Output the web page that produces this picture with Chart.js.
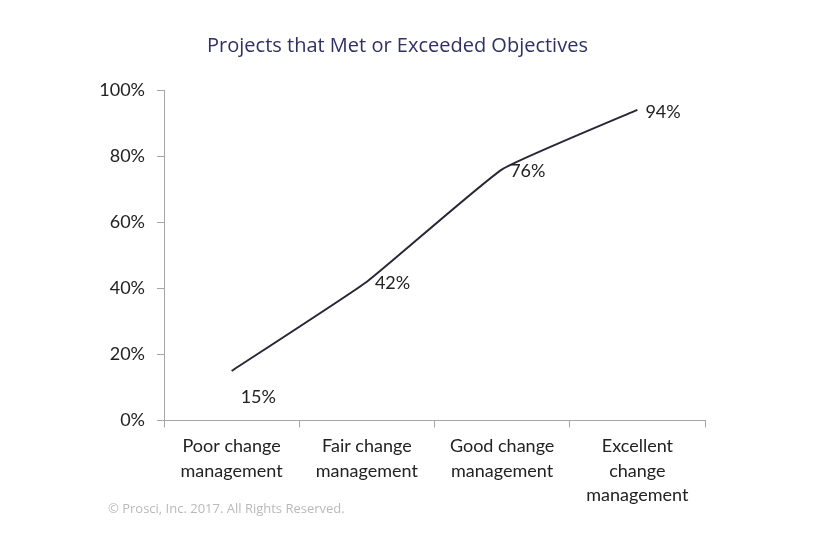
<!DOCTYPE html>
<html>
<head>
<meta charset="utf-8">
<script src="https://cdn.jsdelivr.net/npm/chart.js@4/dist/chart.umd.min.js"></script>
<style>
  body { margin: 0; background: #fff; }
  #wrap { position: relative; width: 836px; height: 558px; }
  #copy { position: absolute; left: 108px; top: 499px; font: 13px "Open Sans", sans-serif; color: #b9b9b9; }
</style>
</head>
<body>
<div id="wrap">
  <canvas id="chart" width="836" height="558"></canvas>
  <div id="copy">© Prosci, Inc. 2017. All Rights Reserved.</div>
</div>
<script>
const categories = [
  ['Poor change', 'management'],
  ['Fair change', 'management'],
  ['Good change', 'management'],
  ['Excellent', 'change', 'management']
];
const metObjectives = [15, 42, 76, 94];
const yTicks = [0, 20, 40, 60, 80, 100];

// value labels: first one sits under the point, the rest to the right
const valueLabels = {
  id: 'valueLabels',
  afterDatasetsDraw(chart) {
    const ctx = chart.ctx;
    const meta = chart.getDatasetMeta(0);
    ctx.save();
    ctx.font = '18px Lato, sans-serif';
    ctx.fillStyle = '#222';
    ctx.textBaseline = 'middle';
    meta.data.forEach((pt, i) => {
      const txt = metObjectives[i] + '%';
      if (i === 0) {
        ctx.fillText(txt, pt.x + 9, pt.y + 26);
      } else {
        ctx.fillText(txt, pt.x + 8, pt.y + 2);
      }
    });
    ctx.restore();
  }
};

new Chart(document.getElementById('chart').getContext('2d'), {
  type: 'line',
  data: {
    labels: categories,
    datasets: [{
      data: metObjectives,
      borderColor: '#2a2838',
      borderWidth: 2,
      pointRadius: 0,
      tension: 0.12,
      fill: false
    }]
  },
  options: {
    responsive: false,
    animation: false,
    layout: { padding: { left: 90, right: 131, top: 0, bottom: 44 } },
    plugins: {
      legend: { display: false },
      tooltip: { enabled: false },
      title: {
        display: true,
        text: 'Projects that Met or Exceeded Objectives',
        color: '#2f3163',
        font: { family: 'Open Sans', size: 20, weight: 'normal' },
        padding: { top: 34, bottom: 32 }
      }
    },
    scales: {
      x: {
        offset: true,
        grid: { offset: true, drawOnChartArea: false, drawTicks: true, tickLength: 7, color: '#a6a6a6' },
        border: { color: '#a6a6a6', width: 1 },
        ticks: { color: '#222', font: { family: 'Lato', size: 18, lineHeight: 1.38 }, padding: 6, maxRotation: 0 }
      },
      y: {
        min: 0,
        max: 100,
        afterFit: s => { s.width = 74; },
        afterBuildTicks: s => { s.ticks = yTicks.map(v => ({ value: v })); },
        grid: { drawOnChartArea: false, drawTicks: true, tickLength: 7, color: '#a6a6a6' },
        border: { color: '#a6a6a6', width: 1 },
        ticks: { color: '#222', font: { family: 'Lato', size: 18 }, padding: 12, callback: v => v + '%' }
      }
    }
  },
  plugins: [valueLabels]
});
</script>
</body>
</html>
